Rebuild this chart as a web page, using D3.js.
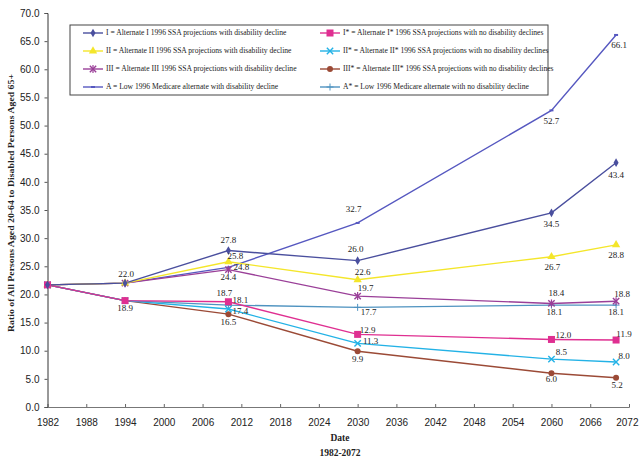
<!DOCTYPE html>
<html>
<head>
<meta charset="utf-8">
<script src="https://cdn.jsdelivr.net/npm/d3@7"></script>
<style>
  body { margin: 0; background: #fff; }
  svg { font-family: "Liberation Serif", "DejaVu Serif", serif; }
</style>
</head>
<body>
<svg id="chart" width="639" height="462"></svg>
<script>
// data
var years = [1982, 1994, 2010, 2030, 2060, 2070];
var altI      = [21.7, 22.0, 27.8, 26.0, 34.5, 43.4];
var altIstar  = [21.7, 18.9, 18.7, 12.9, 12.0, 11.9];
var altII     = [21.7, 22.0, 25.8, 22.6, 26.7, 28.8];
var altIIstar = [21.7, 18.9, 17.4, 11.3, 8.5, 8.0];
var altIII    = [21.7, 22.0, 24.4, 19.7, 18.4, 18.8];
var altIIIstar= [21.7, 18.9, 16.5, 9.9, 6.0, 5.2];
var altA      = [21.7, 22.0, 24.8, 32.7, 52.7, 66.1];
var altAstar  = [21.7, 18.9, 18.1, 17.7, 18.1, 18.1];
var yTicks = [0, 5, 10, 15, 20, 25, 30, 35, 40, 45, 50, 55, 60, 65, 70];
var xTicks = [1982, 1988, 1994, 2000, 2006, 2012, 2018, 2024, 2030, 2036, 2042, 2048, 2054, 2060, 2066, 2072];
var legendNames = [
  "I = Alternate I 1996 SSA projections with disability decline",
  "I* = Alternate I* 1996 SSA projections with no disability declines",
  "II = Alternate II 1996 SSA projections with disability decline",
  "II* = Alternate II* 1996 SSA projections with no disability declines",
  "III = Alternate III 1996 SSA projections with disability decline",
  "III* = Alternate III* 1996 SSA projections with no disability declines",
  "A = Low 1996 Medicare alternate with disability decline",
  "A* = Low 1996 Medicare alternate with no disability decline"
];

// styles (label offsets for index 2..5; 1994 labels drawn separately)
var series = [
  {vals: altI,      color: "#4a4f9e", mark: "diamond", lab: [[0,-10],[-2,-11],[0,12],[0,13]]},
  {vals: altIstar,  color: "#df2f91", mark: "square",  lab: [[-4,-8],[10,-3],[12,-4],[8,-5]]},
  {vals: altII,     color: "#f4e62a", mark: "triangle",lab: [[7,-5],[5,-7],[1,11],[0,11]]},
  {vals: altIIstar, color: "#23b2e6", mark: "x",       lab: [[12,3],[13,-1],[10,-6],[8,-5]]},
  {vals: altIII,    color: "#9a3f98", mark: "star",    lab: [[0,8],[8,-7],[5,-9],[6,-6]]},
  {vals: altIIIstar,color: "#9b4a36", mark: "circle",  lab: [[0,9],[0,9],[0,7],[1,8]]},
  {vals: altA,      color: "#5658c0", mark: "dash",    lab: [[13,1],[-4,-13],[0,12],[3,11]]},
  {vals: altAstar,  color: "#4f93c0", mark: "plus",    lab: [[12,-4],[11,6],[3,8],[0,8]]}
];

var svg = d3.select("#chart");
var x = d3.scaleLinear().domain([1982, 2072]).range([47.5, 629]);
var y = d3.scaleLinear().domain([0, 70]).range([407, 13]);

// axes
var yAxis = svg.append("g")
  .attr("transform", "translate(47.5,0)")
  .call(d3.axisLeft(y).tickValues(yTicks).tickSize(3).tickFormat(d3.format(".1f")));
yAxis.select(".domain").attr("stroke", "#333");
yAxis.selectAll("line").attr("stroke", "#555");
yAxis.selectAll("text").attr("font-size", 10).attr("fill", "#222").attr("x", -8);

var xAxis = svg.append("g")
  .attr("transform", "translate(0,407)")
  .call(d3.axisBottom(x).tickValues(xTicks).tickSize(-3).tickFormat(d3.format("d")));
xAxis.select(".domain").attr("stroke", "#777");
xAxis.selectAll("line").attr("stroke", "#666");
xAxis.selectAll("text").attr("font-size", 10).attr("fill", "#222").attr("y", 12);
// last label would run past the edge
xAxis.selectAll("text").filter(function(d){ return d == 2072; })
  .attr("text-anchor", "end").attr("dx", 9);

// axis titles
svg.append("text")
  .attr("transform", "translate(14,203) rotate(-90)")
  .attr("text-anchor", "middle")
  .attr("font-size", 9).attr("font-weight", "bold").attr("fill", "#222")
  .attr("textLength", 258).attr("lengthAdjust", "spacingAndGlyphs")
  .text("Ratio of All Persons Aged 20-64 to Disabled Persons Aged 65+");
svg.append("text").attr("x", 340).attr("y", 441).attr("text-anchor", "middle")
  .attr("font-size", 9.5).attr("font-weight", "bold").attr("fill", "#222").text("Date");
svg.append("text").attr("x", 340).attr("y", 456).attr("text-anchor", "middle")
  .attr("font-size", 9.5).attr("font-weight", "bold").attr("fill", "#222").text("1982-2072");

function drawMark(g, kind, color, cx, cy) {
  if (kind == "diamond") {
    g.append("path").attr("d", d3.symbol(d3.symbolDiamond, 22)()).attr("transform", "translate(" + cx + "," + cy + ")").attr("fill", color);
  } else if (kind == "square") {
    g.append("rect").attr("x", cx - 3.5).attr("y", cy - 3.5).attr("width", 7).attr("height", 7).attr("fill", color);
  } else if (kind == "triangle") {
    g.append("path").attr("d", d3.symbol(d3.symbolTriangle, 30)()).attr("transform", "translate(" + cx + "," + cy + ")").attr("fill", color);
  } else if (kind == "x") {
    g.append("path").attr("d", d3.symbol(d3.symbolTimes, 28)()).attr("transform", "translate(" + cx + "," + cy + ")").attr("fill", "none").attr("stroke", color).attr("stroke-width", 1.4);
  } else if (kind == "star") {
    g.append("path").attr("d", d3.symbol(d3.symbolTimes, 28)()).attr("transform", "translate(" + cx + "," + cy + ")").attr("fill", "none").attr("stroke", color).attr("stroke-width", 1.4);
    g.append("line").attr("x1", cx).attr("x2", cx).attr("y1", cy - 4).attr("y2", cy + 4).attr("stroke", color).attr("stroke-width", 1.2);
  } else if (kind == "circle") {
    g.append("circle").attr("cx", cx).attr("cy", cy).attr("r", 3).attr("fill", color);
  } else if (kind == "dash") {
    g.append("line").attr("x1", cx - 2).attr("x2", cx + 2).attr("y1", cy).attr("y2", cy).attr("stroke", color).attr("stroke-width", 2);
  } else if (kind == "plus") {
    g.append("line").attr("x1", cx - 3.5).attr("x2", cx + 3.5).attr("y1", cy).attr("y2", cy).attr("stroke", color).attr("stroke-width", 1);
    g.append("line").attr("x1", cx).attr("x2", cx).attr("y1", cy - 3.5).attr("y2", cy + 3.5).attr("stroke", color).attr("stroke-width", 1);
  }
}

// lines
var line = d3.line().x(function(d, i){ return x(years[i]); }).y(function(d){ return y(d); });
series.slice().reverse().forEach(function(s){
  svg.append("path").datum(s.vals).attr("d", line)
    .attr("fill", "none").attr("stroke", s.color).attr("stroke-width", 1.4);
});
series.slice().reverse().forEach(function(s){
  var g = svg.append("g");
  s.vals.forEach(function(v, i){ drawMark(g, s.mark, s.color, x(years[i]), y(v)); });
});

// value labels
var labels = svg.append("g").attr("font-size", 9).attr("fill", "#222").attr("text-anchor", "middle").attr("dominant-baseline", "middle");
series.forEach(function(s){
  s.lab.forEach(function(o, k){
    var i = k + 2;
    labels.append("text").attr("x", x(years[i]) + o[0]).attr("y", y(s.vals[i]) + o[1]).text(s.vals[i].toFixed(1));
  });
});
labels.append("text").attr("x", x(1994) + 1).attr("y", y(altI[1]) - 8).text(altI[1].toFixed(1));
labels.append("text").attr("x", x(1994)).attr("y", y(altIstar[1]) + 8).text(altIstar[1].toFixed(1));

// legend
var leg = svg.append("g");
leg.append("rect").attr("x", 70).attr("y", 25).attr("width", 478).attr("height", 70)
  .attr("fill", "#fff").attr("stroke", "#444").attr("stroke-width", 1);
series.forEach(function(s, i){
  var col = i % 2, row = Math.floor(i / 2);
  var lx = col == 0 ? 83 : 320;
  var ly = 33 + row * 18;
  leg.append("line").attr("x1", lx).attr("x2", lx + 20).attr("y1", ly).attr("y2", ly)
    .attr("stroke", s.color).attr("stroke-width", 1.4);
  drawMark(leg, s.mark, s.color, lx + 10, ly);
  leg.append("text").attr("x", lx + 23).attr("y", ly).attr("dominant-baseline", "middle")
    .attr("font-size", 7.6).attr("fill", "#222").text(legendNames[i]);
});
</script>
</body>
</html>
